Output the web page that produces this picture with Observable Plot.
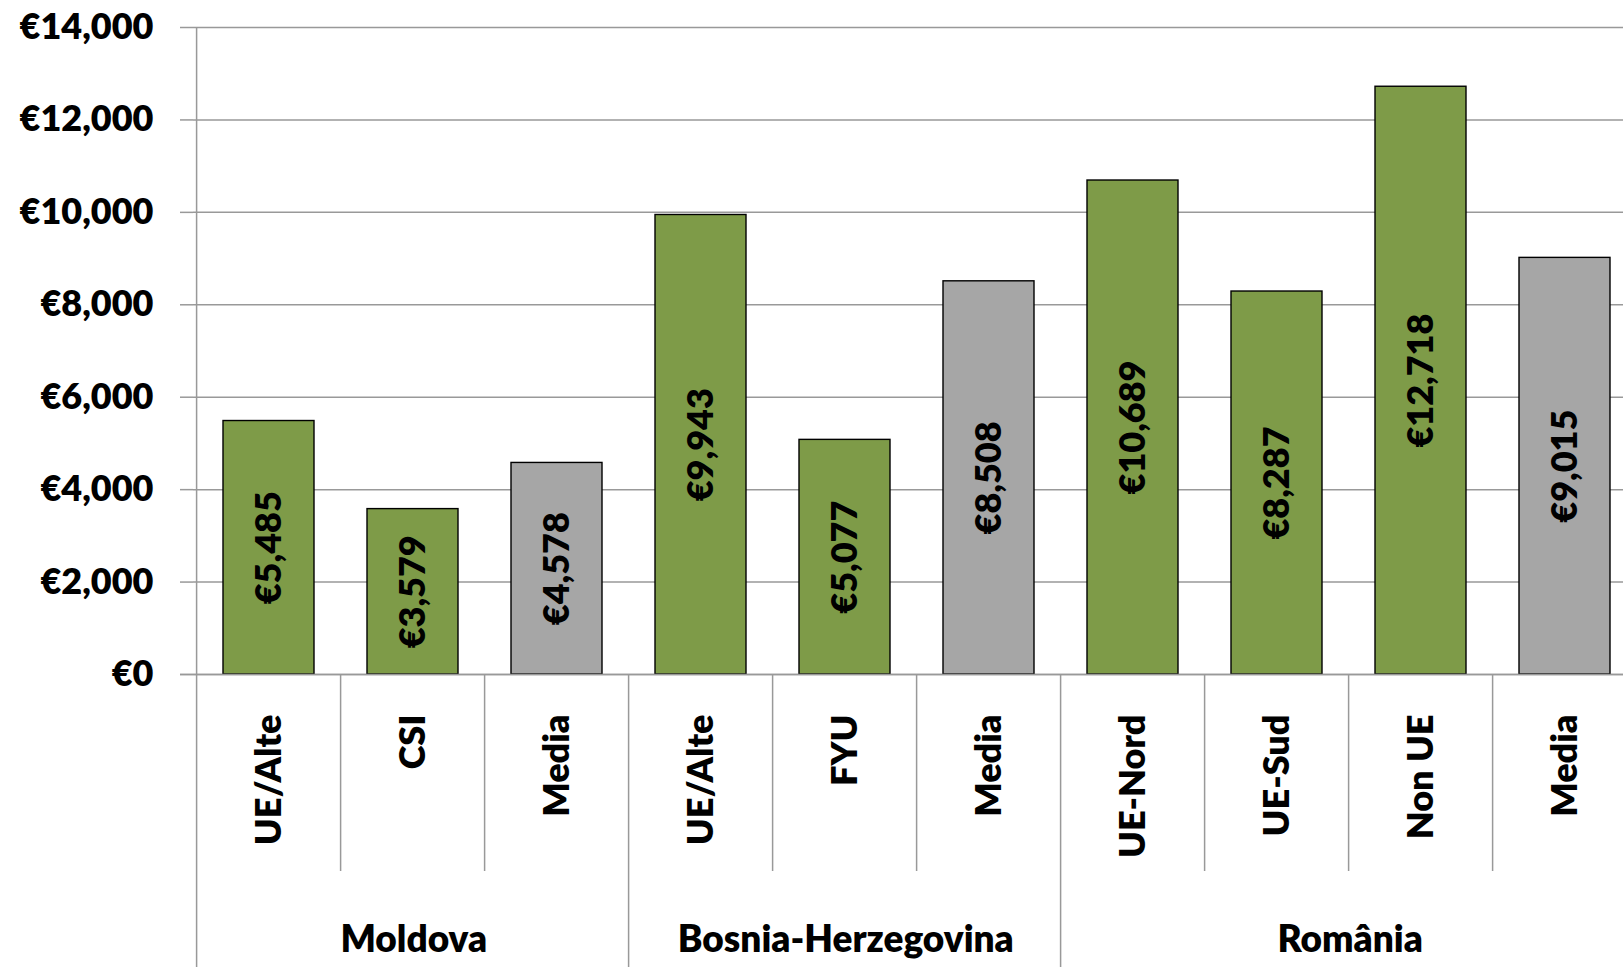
<!DOCTYPE html>
<html>
<head>
<meta charset="utf-8">
<script src="https://cdn.jsdelivr.net/npm/d3@7"></script>
<script src="https://cdn.jsdelivr.net/npm/@observablehq/plot@0.6"></script>
<style>
  html, body { margin: 0; padding: 0; background: #fff; overflow: hidden; }
  #chart svg { display: block; overflow: visible; }
</style>
</head>
<body>
<div id="chart"></div>
<script>
// ---- data ----
const categories = ["UE/Alte", "CSI", "Media", "UE/Alte", "FYU", "Media", "UE-Nord", "UE-Sud", "Non UE", "Media"];
const values = [5485, 3579, 4578, 9943, 5077, 8508, 10689, 8287, 12718, 9015];
const isAverage = [false, false, true, false, false, true, false, false, false, true];
const groups = ["Moldova", "Bosnia-Herzegovina", "România"];
const groupSizes = [3, 3, 4];
const yTicks = [0, 2000, 4000, 6000, 8000, 10000, 12000, 14000];

const data = categories.map((c, i) => ({id: i, cat: c, value: values[i], avg: isAverage[i]}));
const groupStarts = groupSizes.map((s, i) => d3.sum(groupSizes.slice(0, i)));

// ---- layout ----
const W = 1623, H = 967;
const x0 = 193, x1 = 1641;       // plot band range (last band runs past the right edge)
const yTop = 27, yZero = 674;
const step = (x1 - x0) / categories.length;
const padIn = 0.365;
const fmt = d => "€" + d3.format(",")(d);
const font = "Lato, 'Open Sans', 'DejaVu Sans', sans-serif";
const weight = 800;
const gridColor = "#999999";

const marks = [
  Plot.gridY(yTicks, {stroke: gridColor, strokeOpacity: 1, strokeWidth: 1.5}),
  Plot.axisY(yTicks, {label: null, tickFormat: fmt, tickSize: 13, tickPadding: 27, fontSize: 36, fontWeight: weight, stroke: gridColor, strokeWidth: 1.5, color: "#000", fill: "#000"}),
  // y-axis line
  Plot.ruleX([0], {x: d => d, dx: -step / 2, stroke: gridColor, strokeWidth: 1.5}),
  Plot.barY(data, {x: "id", y: "value", fill: d => d.avg ? "#A6A6A6" : "#7E9B48", stroke: "#000", strokeWidth: 1.4}),
  // zero line
  Plot.ruleY([0], {stroke: gridColor, strokeWidth: 1.5, insetLeft: -13}),
  Plot.text(data, {x: "id", y: d => d.value / 2, text: d => fmt(d.value), rotate: -90, fontSize: 36, fontWeight: weight, fill: "#000", lineAnchor: "middle"}),
  // inner category dividers below axis
  Plot.ruleX(data.filter(d => !groupStarts.includes(d.id)), {x: "id", dx: -step / 2, y1: 0, y2: 0, insetBottom: -(871 - yZero), stroke: gridColor, strokeWidth: 1.5}),
  // group dividers
  Plot.ruleX(groupStarts, {x: d => d, dx: -step / 2, y1: 0, y2: 0, insetBottom: -(H - yZero), stroke: gridColor, strokeWidth: 1.5}),
  // category labels
  Plot.text(data, {x: "id", y: 0, text: "cat", rotate: -90, textAnchor: "end", lineAnchor: "middle", dy: 714 - yZero, fontSize: 36, fontWeight: weight, fill: "#000"}),
  // group labels
  ...groups.map((g, i) => Plot.text([g], {x: () => groupStarts[i], y: () => 0, text: d => d, dx: (groupSizes[i] - 1) * step / 2, dy: 940 - yZero, lineAnchor: "middle", fontSize: 37, fontWeight: weight, fill: "#000"}))
];

const chart = Plot.plot({
  width: W,
  height: H,
  marginLeft: x0,
  marginRight: 0,
  marginTop: yTop,
  marginBottom: H - yZero,
  style: {fontFamily: font, background: "#fff", overflow: "visible"},
  x: {type: "band", domain: d3.range(categories.length), range: [x0, x1], paddingInner: padIn, paddingOuter: padIn / 2, axis: null},
  y: {domain: [0, 14000], range: [yZero, yTop], axis: null},
  marks
});
document.getElementById("chart").appendChild(chart);
</script>
</body>
</html>
